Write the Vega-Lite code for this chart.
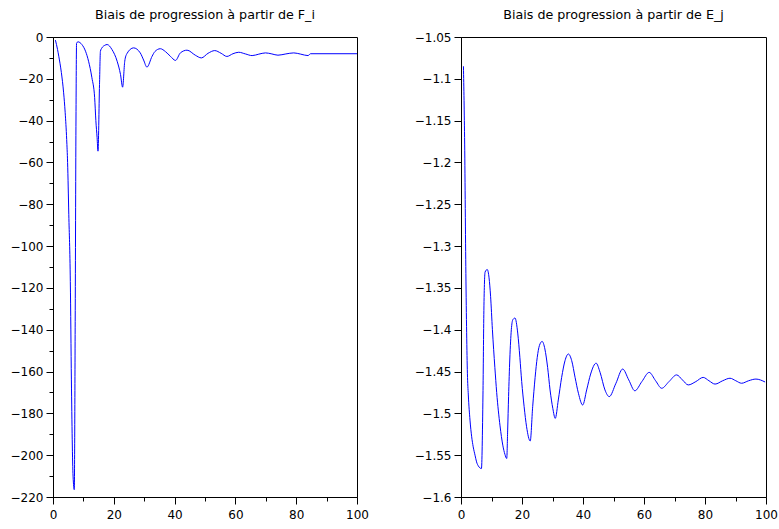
{
  "$schema": "https://vega.github.io/schema/vega-lite/v6.json",
  "background": "white",
  "padding": {"left": 9, "top": 8, "right": 5, "bottom": 5},
  "bounds": "flush",
  "spacing": 104,
  "datasets": {
    "F": [
      {"x": 0.8, "y": -1.5}, {"x": 1.5, "y": -6}, {"x": 1.9, "y": -9.2}, {"x": 2.75, "y": -17},
      {"x": 3.5, "y": -26.7}, {"x": 4.0, "y": -36}, {"x": 4.5, "y": -49}, {"x": 4.8, "y": -60},
      {"x": 5.2, "y": -85}, {"x": 5.7, "y": -117}, {"x": 6.05, "y": -164}, {"x": 6.6, "y": -210},
      {"x": 7.0, "y": -216.5}, {"x": 7.3, "y": -136}, {"x": 7.55, "y": -42.7}, {"x": 7.75, "y": -3},
      {"x": 8.2, "y": -2.3}, {"x": 9.5, "y": -3.6}, {"x": 10.7, "y": -6.8}, {"x": 11.7, "y": -11.6},
      {"x": 12.8, "y": -19.5}, {"x": 13.7, "y": -29}, {"x": 14.1, "y": -40}, {"x": 14.5, "y": -48},
      {"x": 14.8, "y": -54.6}, {"x": 15.3, "y": -22.7}, {"x": 15.6, "y": -6.8}, {"x": 16.1, "y": -5.2},
      {"x": 17.0, "y": -4.0}, {"x": 17.8, "y": -3.6}, {"x": 19.4, "y": -6.0}, {"x": 21.1, "y": -11.6},
      {"x": 22.2, "y": -17.9}, {"x": 22.9, "y": -24.0}, {"x": 23.6, "y": -11.6}, {"x": 24.3, "y": -8.0},
      {"x": 26.5, "y": -5.2}, {"x": 28.7, "y": -7.6}, {"x": 29.8, "y": -11}, {"x": 30.9, "y": -14.4},
      {"x": 32.6, "y": -9.2}, {"x": 33.5, "y": -7.0}, {"x": 35.3, "y": -5.6}, {"x": 37.0, "y": -7.0},
      {"x": 38.6, "y": -9.2}, {"x": 40.3, "y": -11.2}, {"x": 41.9, "y": -7.6}, {"x": 44.1, "y": -6.3},
      {"x": 46.8, "y": -8.7}, {"x": 48.8, "y": -10}, {"x": 51.0, "y": -7.8}, {"x": 53.2, "y": -6.5},
      {"x": 55.3, "y": -7.8}, {"x": 57.2, "y": -9.3}, {"x": 59.2, "y": -8}, {"x": 61.1, "y": -7.3},
      {"x": 63.3, "y": -8.1}, {"x": 65.5, "y": -8.9}, {"x": 67.7, "y": -8.2}, {"x": 69.9, "y": -7.6},
      {"x": 72.0, "y": -8.1}, {"x": 74.0, "y": -8.7}, {"x": 76.6, "y": -8.1}, {"x": 79.2, "y": -7.6},
      {"x": 81.5, "y": -8.2}, {"x": 83.9, "y": -8.9}, {"x": 84.7, "y": -8.0}, {"x": 100, "y": -8.0}
    ],
    "E": [
      {"x": 0.8, "y": -1.085}, {"x": 1.2, "y": -1.178}, {"x": 1.6, "y": -1.333}, {"x": 2.1, "y": -1.452},
      {"x": 2.4, "y": -1.478}, {"x": 2.95, "y": -1.508}, {"x": 3.5, "y": -1.528}, {"x": 4.0, "y": -1.54},
      {"x": 4.6, "y": -1.55}, {"x": 5.1, "y": -1.558}, {"x": 5.7, "y": -1.563}, {"x": 6.7, "y": -1.566},
      {"x": 7.2, "y": -1.478}, {"x": 7.5, "y": -1.377}, {"x": 7.9, "y": -1.331}, {"x": 8.6, "y": -1.328},
      {"x": 9.2, "y": -1.338}, {"x": 9.7, "y": -1.36}, {"x": 10.3, "y": -1.40}, {"x": 11.1, "y": -1.445},
      {"x": 11.7, "y": -1.475}, {"x": 12.8, "y": -1.515}, {"x": 13.7, "y": -1.538}, {"x": 14.4, "y": -1.549},
      {"x": 15.0, "y": -1.554}, {"x": 15.3, "y": -1.52}, {"x": 15.6, "y": -1.48}, {"x": 16.0, "y": -1.435},
      {"x": 16.5, "y": -1.40}, {"x": 17.0, "y": -1.388}, {"x": 17.7, "y": -1.386}, {"x": 18.6, "y": -1.404},
      {"x": 19.3, "y": -1.433}, {"x": 19.9, "y": -1.462}, {"x": 20.7, "y": -1.492}, {"x": 21.5, "y": -1.516},
      {"x": 22.7, "y": -1.533}, {"x": 23.5, "y": -1.492}, {"x": 24.3, "y": -1.457}, {"x": 25.0, "y": -1.433},
      {"x": 25.7, "y": -1.419}, {"x": 26.6, "y": -1.414}, {"x": 27.5, "y": -1.423}, {"x": 28.4, "y": -1.445},
      {"x": 29.2, "y": -1.472}, {"x": 30.1, "y": -1.494}, {"x": 30.9, "y": -1.506}, {"x": 31.9, "y": -1.484},
      {"x": 33.0, "y": -1.457}, {"x": 34.1, "y": -1.437}, {"x": 35.2, "y": -1.429}, {"x": 36.3, "y": -1.437},
      {"x": 37.4, "y": -1.457}, {"x": 38.5, "y": -1.476}, {"x": 39.9, "y": -1.49}, {"x": 41.2, "y": -1.472},
      {"x": 42.5, "y": -1.453}, {"x": 44.3, "y": -1.44}, {"x": 45.6, "y": -1.451}, {"x": 47.2, "y": -1.472},
      {"x": 48.6, "y": -1.48}, {"x": 50.8, "y": -1.464}, {"x": 53.0, "y": -1.447}, {"x": 55.0, "y": -1.46},
      {"x": 57.0, "y": -1.473}, {"x": 59.3, "y": -1.462}, {"x": 61.7, "y": -1.451}, {"x": 63.8, "y": -1.461},
      {"x": 65.8, "y": -1.47}, {"x": 68.2, "y": -1.462}, {"x": 70.7, "y": -1.454}, {"x": 72.6, "y": -1.46},
      {"x": 74.5, "y": -1.466}, {"x": 77.0, "y": -1.462}, {"x": 79.4, "y": -1.457}, {"x": 81.3, "y": -1.461},
      {"x": 83.3, "y": -1.465}, {"x": 85.8, "y": -1.461}, {"x": 88.2, "y": -1.458}, {"x": 90.1, "y": -1.461},
      {"x": 92.0, "y": -1.464}, {"x": 94.3, "y": -1.461}, {"x": 96.7, "y": -1.459}, {"x": 99.7, "y": -1.4625}
    ]
  },
  "config": {
    "view": {"stroke": "black", "strokeWidth": 1},
    "font": "DejaVu Sans",
    "axis": {
      "domainColor": "black", "tickColor": "black", "labelColor": "black",
      "labelFont": "DejaVu Sans", "labelFontSize": 12, "grid": false, "title": null,
      "tickSize": 7, "domainWidth": 1, "tickWidth": 1, "labelFlush": false, "labelOverlap": false
    },
    "title": {"font": "DejaVu Sans", "fontSize": 12.7, "fontWeight": "normal", "color": "black", "anchor": "middle", "frame": "group", "baseline": "alphabetic", "offset": 9}
  },
  "hconcat": [
    {
      "width": 304, "height": 460,
      "title": "Biais de progression à partir de F_i",
      "data": {"name": "F"},
      "layer": [
        {
          "mark": {"type": "line", "color": "#0000ff", "strokeWidth": 1, "interpolate": "monotone", "clip": true},
          "encoding": {
            "x": {"field": "x", "type": "quantitative", "scale": {"domain": [0, 100], "nice": false}, "axis": {"orient": "bottom", "values": [0, 20, 40, 60, 80, 100], "labelPadding": 5}},
            "y": {"field": "y", "type": "quantitative", "scale": {"domain": [-220, 0], "nice": false}, "axis": {"orient": "left", "values": [0, -20, -40, -60, -80, -100, -120, -140, -160, -180, -200, -220], "labelPadding": 3}}
          }
        },
        {
          "mark": {"type": "line", "opacity": 0},
          "encoding": {
            "x": {"field": "x", "type": "quantitative", "axis": {"orient": "bottom", "values": [10, 30, 50, 70, 90], "labels": false, "tickSize": 4, "domain": false}},
            "y": {"field": "y", "type": "quantitative", "axis": {"orient": "left", "values": [-10, -30, -50, -70, -90, -110, -130, -150, -170, -190, -210], "labels": false, "tickSize": 4, "domain": false}}
          }
        }
      ],
      "resolve": {"axis": {"x": "independent", "y": "independent"}}
    },
    {
      "width": 305, "height": 460,
      "title": "Biais de progression à partir de E_j",
      "data": {"name": "E"},
      "layer": [
        {
          "mark": {"type": "line", "color": "#0000ff", "strokeWidth": 1, "interpolate": "monotone", "clip": true},
          "encoding": {
            "x": {"field": "x", "type": "quantitative", "scale": {"domain": [0, 100], "nice": false}, "axis": {"orient": "bottom", "values": [0, 20, 40, 60, 80, 100], "labelPadding": 5}},
            "y": {"field": "y", "type": "quantitative", "scale": {"domain": [-1.6, -1.05], "nice": false, "zero": false}, "axis": {"orient": "left", "values": [-1.05, -1.1, -1.15, -1.2, -1.25, -1.3, -1.35, -1.4, -1.45, -1.5, -1.55, -1.6], "format": ".2~f", "labelPadding": 3}}
          }
        },
        {
          "mark": {"type": "line", "opacity": 0},
          "encoding": {
            "x": {"field": "x", "type": "quantitative", "axis": {"orient": "bottom", "values": [10, 30, 50, 70, 90], "labels": false, "tickSize": 4, "domain": false}},
            "y": {"field": "y", "type": "quantitative"}
          }
        }
      ],
      "resolve": {"axis": {"x": "independent"}}
    }
  ]
}
